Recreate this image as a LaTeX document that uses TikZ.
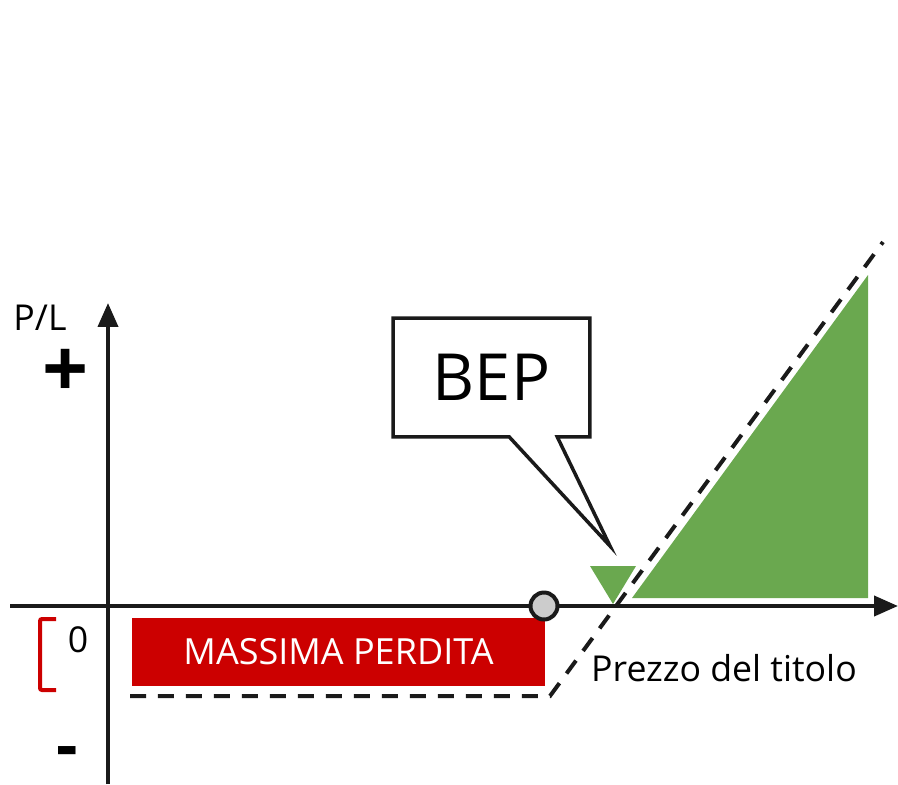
\documentclass[tikz,border=0pt]{standalone}
\usepackage{fontspec}
\setmainfont{Open Sans}
\usepackage{tikz}
\usetikzlibrary{calc}
\usetikzlibrary{shapes.callouts, arrows.meta}
\definecolor{lossred}{HTML}{CC0000}
\definecolor{gaingreen}{HTML}{6AA84F}
\definecolor{bepgray}{HTML}{CCCCCC}
\definecolor{axisblack}{HTML}{1A1A1A}
\tikzstyle{axis} = [line width=0.08cm, draw=axisblack, 
-{Triangle[length=0.48cm, width=0.40cm]}]
\tikzstyle{payoff} = [line width=0.08cm, draw=axisblack, 
dash pattern=on 0.32cm off 0.24cm]
\tikzstyle{axislabel} = [inner sep=0, font=\fontsize{20.3}{24}\selectfont]
\tikzstyle{sign} = [inner sep=0, font=\bfseries\fontsize{38}{40}\selectfont]
\tikzstyle{lossbox} = [rectangle, fill=lossred, text=white, 
minimum width=8.26cm, 
minimum height=1.36cm, 
font=\fontsize{20.5}{24}\selectfont]
\tikzstyle{bubble} = [rectangle callout, draw=axisblack, fill=white, 
line width=0.07cm, 
minimum width=3.94cm, 
minimum height=2.38cm, inner sep=0, 
callout pointer width=0.96cm, 
font=\fontsize{37}{40}\selectfont]

\begin{document}
\begin{tikzpicture} [x=0.02cm, y=-0.02cm]
    \useasboundingbox (0,0) rectangle (898,784);

    % the axes
    \coordinate (Xstart) at (10,606);
    \coordinate (Xend) at (898,606);
    \coordinate (Ybottom) at (108,784);
    \coordinate (Ytop) at (108,303);
    \draw [axis] (Xstart) -- (Xend);
    \draw [axis] (Ybottom) -- (Ytop);

    % the profit and loss areas
    \fill [gaingreen] (632,598) -- (868,598) -- (868,275) -- cycle;
    \fill [gaingreen] (590,566) -- (636,566) -- (613,604) -- cycle;
    \node (Loss) [lossbox] at (338.5,652) {MASSIMA PERDITA};

    % the payoff line
    \draw [payoff] (130,696) -- (550,696) -- (883,242);

    % the strike and the break even point
    \node (Strike) [circle, draw=axisblack, fill=bepgray, line width=0.08cm, 
    minimum size=0.54cm, inner sep=0] at (544,606) {};
    \coordinate (Tip) at (610,546);
    \node (BEP) [bubble, callout absolute pointer={(Tip)}] at (491.5,377.5) {BEP};

    % annotations
    \node (PL) [axislabel] at (40,318) {P/L};
    \node (Plus) [sign, font=\bfseries\fontsize{46}{48}\selectfont] at (66,373) {+};
    \node (Minus) [sign] at (67,758) {-};
    \node (Zero) [axislabel] at (78,640) {0};
    \draw [lossred, line width=0.08cm, rounded corners=0.04cm] 
    (56,619) -- (40,619) -- (40,690) -- (56,690);
    \node (Price) [axislabel] at (724,668) {Prezzo del titolo};

\end{tikzpicture}
\end{document}
